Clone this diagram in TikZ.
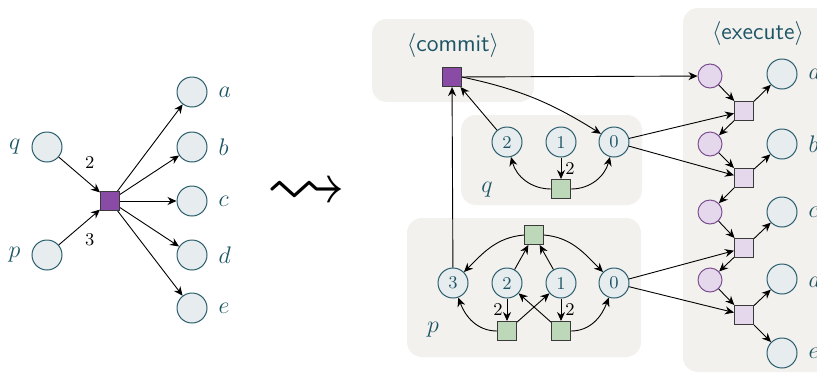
\documentclass[tikz,border=0pt]{standalone}
\definecolor{placefill}{HTML}{E7EDEE}
\definecolor{placedraw}{HTML}{2A5D6D}
\definecolor{labelcol}{HTML}{1E5566}
\definecolor{commitfill}{HTML}{8A4BA6}
\definecolor{greenfill}{HTML}{BDD8B8}
\definecolor{lilacfill}{HTML}{E6D8EC}
\definecolor{lilacdraw}{HTML}{7B4E92}
\definecolor{transdraw}{HTML}{3A3A3A}
\definecolor{panelgray}{HTML}{F2F1ED}
\usepackage{amsmath}
\usepackage{amssymb}
\usepackage{xcolor}
\usepackage{tikz}
\usetikzlibrary{arrows.meta, positioning, calc}

\begin{document}
\begin{tikzpicture}[x=0.5pt, y=-0.5pt,
    place/.style={circle, draw=placedraw, fill=placefill, line width=0.5pt, minimum size=15pt, inner sep=0pt, text=labelcol, font=\small},
    trans/.style={rectangle, draw=transdraw, line width=0.5pt, minimum size=9.5pt, inner sep=0pt},
    ctrl/.style={circle, draw=lilacdraw, fill=lilacfill, line width=0.5pt, minimum size=12pt, inner sep=0pt},
    arc/.style={-{Stealth[length=4.5pt, width=4pt]}, line width=0.45pt},
    panel/.style={fill=panelgray, rounded corners=7.5pt},
    tag/.style={text=labelcol, font=\large, label distance=2pt},
    wt/.style={font=\small, inner sep=2pt}]
    \useasboundingbox (0,0) rectangle (817,376);
    % Panels
    \fill[panel] (372,19) rectangle (534,102);
    \fill[panel] (461,115) rectangle (642,205);
    \fill[panel] (407,218) rectangle (641,357);
    \fill[panel] (683,8) rectangle (870,372);
    \node[text=labelcol, font=\large\sffamily] (commitlbl) at (453,45) {$\langle$commit$\rangle$};
    \node[text=labelcol, font=\large\sffamily] (execlbl) at (758,33) {$\langle$execute$\rangle$};
    \node[text=labelcol, font=\large] (qlbl) at (487,190) {$q$};
    \node[text=labelcol, font=\large] (plbl) at (433,330) {$p$};

    % Left net
    \node[place, label={[tag]left:$q$}] (lq) at (47,147) {};
    \node[place, label={[tag]left:$p$}] (lp) at (47,255) {};
    \node[trans, fill=commitfill] (lt) at (110,201) {};
    \foreach \n/\y in {a/92, b/147, c/201, d/255, e/308}
      \node[place, label={[tag]right:$\n$}] (l\n) at (192,\y) {};
    \draw[arc] (lq) -- node[wt, midway, above right=1pt] {2} (lt);
    \draw[arc] (lp) -- node[wt, midway, below right=1pt] {3} (lt);
    \foreach \n in {a,b,c,d,e}
      \draw[arc] (lt) -- (l\n);

    % Squiggle
    \node[inner sep=0pt] (squig) at (306,194) {\scalebox{4}{$\rightsquigarrow$}};

    % Commit
    \node[trans, fill=commitfill] (cm) at (452,77) {};

    % q net
    \node[place] (q2) at (507,142) {2};
    \node[place] (q1) at (561,142) {1};
    \node[place] (q0) at (614,142) {0};
    \node[trans, fill=greenfill] (qt) at (561,189) {};
    \draw[arc] (q1) -- node[wt, right] {2} (qt);
    \draw[arc] (qt.west) to[out=180, in=-75] (q2);
    \draw[arc] (qt.east) to[out=0, in=-105] (q0);
    \draw[arc] (q2) -- (cm);
    \draw[arc] (cm.east) to[out=-12, in=148] (q0);

    % p net
    \node[trans, fill=greenfill] (pt) at (534,235) {};
    \node[place] (p3) at (453,283) {3};
    \node[place] (p2) at (507,283) {2};
    \node[place] (p1) at (561,283) {1};
    \node[place] (p0) at (614,283) {0};
    \node[trans, fill=greenfill] (pl) at (507,331) {};
    \node[trans, fill=greenfill] (pr) at (561,331) {};
    \draw[arc] (pt.west) to[out=185, in=45] (p3);
    \draw[arc] (pt.east) to[out=-5, in=135] (p0);
    \draw[arc] (p2) -- (pt);
    \draw[arc] (p1) -- (pt);
    \draw[arc] (p2) -- node[wt, left] {2} (pl);
    \draw[arc] (p1) -- node[wt, right] {2} (pr);
    \draw[arc] (pl.west) to[out=180, in=-70] (p3);
    \draw[arc] (pr.east) to[out=0, in=-110] (p0);
    \draw[arc] (pl) -- (p1);
    \draw[arc] (pr) -- (p2);
    \draw[arc] (p3) -- (cm);

    % Execute
    \foreach \i/\y in {1/76, 2/144, 3/212, 4/280}
      \node[ctrl] (xp\i) at (710,\y) {};
    \foreach \i/\y in {1/111, 2/178, 3/248, 4/315}
      \node[trans, fill=lilacfill] (xt\i) at (744,\y) {};
    \foreach \n/\y in {a/74, b/144, c/212, d/279, e/353}
      \node[place, label={[tag]right:$\n$}] (r\n) at (782,\y) {};
    \draw[arc] (cm) -- (xp1);
    \foreach \i/\n in {1/a, 2/b, 3/c, 4/d} {
      \draw[arc] (xp\i) -- (xt\i);
      \draw[arc] (xt\i) -- (r\n);
    }
    \foreach \i/\j in {1/2, 2/3, 3/4}
      \draw[arc] (xt\i) -- (xp\j);
    \draw[arc] (xt4) -- (re);
    \draw[arc] (q0) -- (xt1);
    \draw[arc] (q0) -- (xt2);
    \draw[arc] (p0) -- (xt3);
    \draw[arc] (p0) -- (xt4);
  \end{tikzpicture}
\end{document}
